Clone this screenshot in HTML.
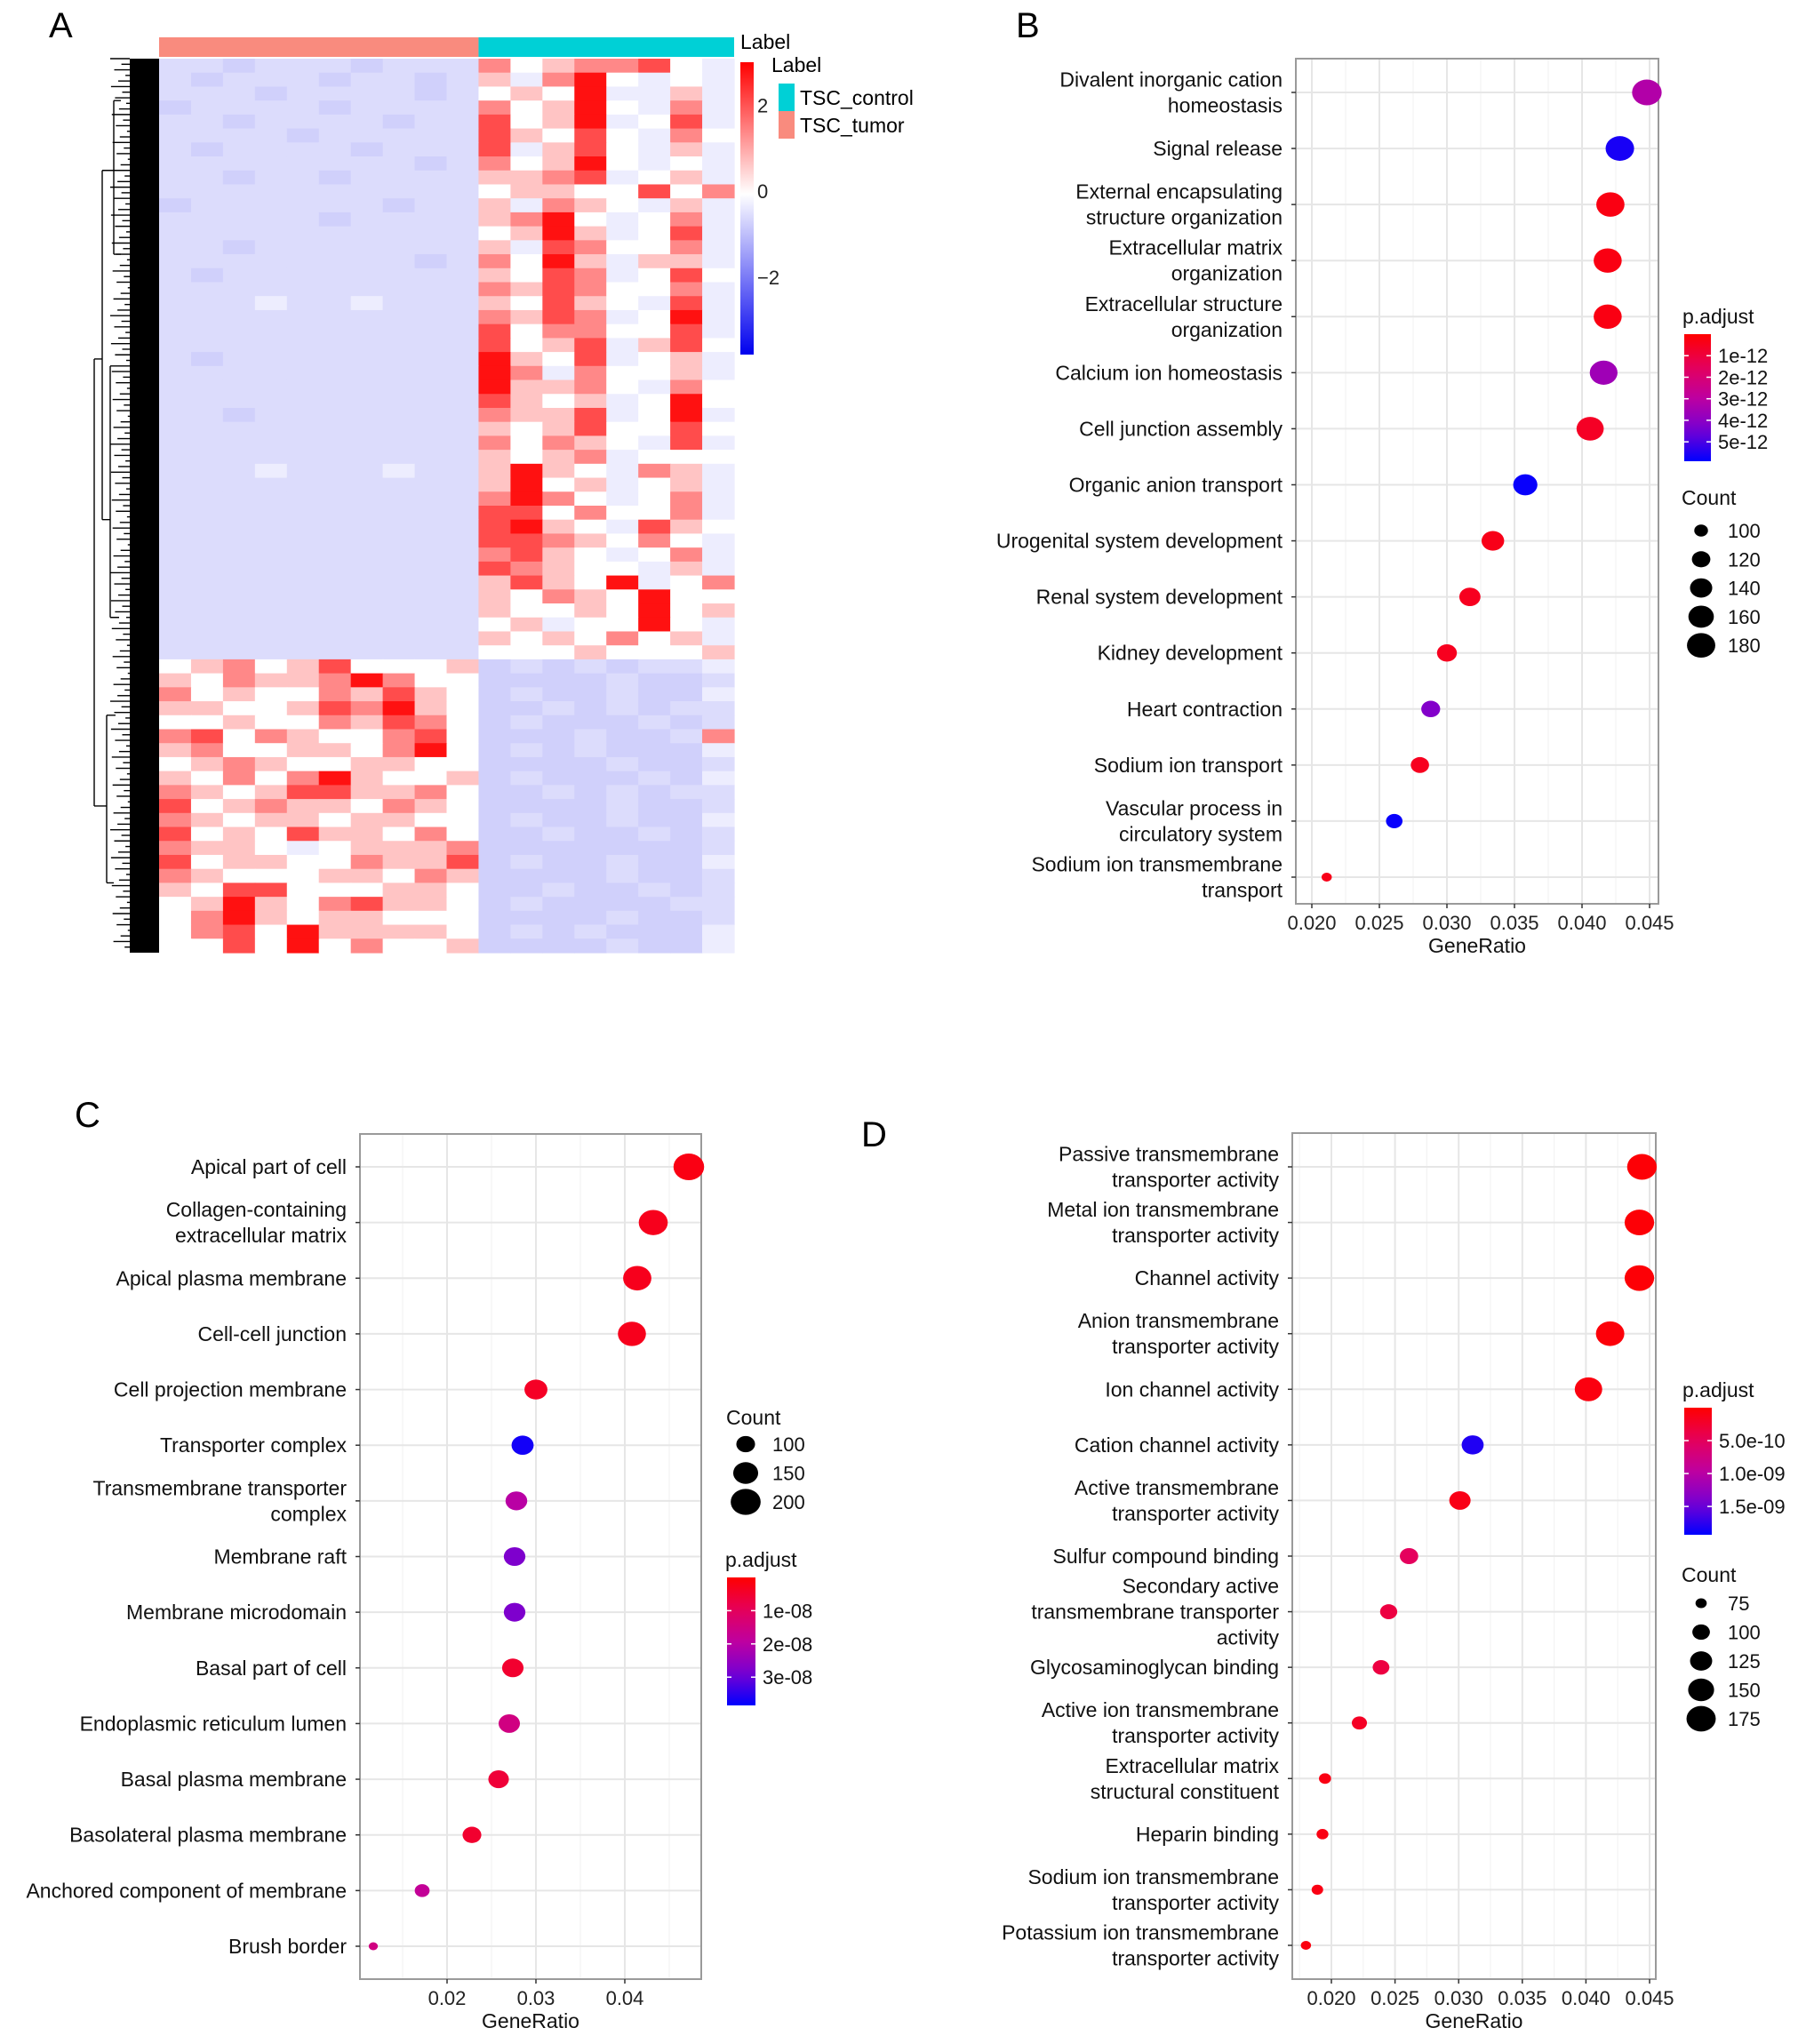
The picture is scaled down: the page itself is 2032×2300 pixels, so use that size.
<!DOCTYPE html>
<html><head><meta charset="utf-8"><style>
html,body{margin:0;padding:0;background:#fff;}
svg{display:block;font-family:"Liberation Sans",Arial,sans-serif;}
</style></head><body>
<svg id="fig" width="2032" height="2300" viewBox="0 0 2032 2300" xmlns="http://www.w3.org/2000/svg">
<text x="55" y="42" font-size="40">A</text>
<text x="1143" y="42" font-size="40">B</text>
<text x="84" y="1268" font-size="40">C</text>
<text x="969" y="1290" font-size="40">D</text>
<g id="heat"></g>
<g id="pb"></g>
<g id="pc"></g>
<g id="pd"></g>
</svg>
<script>
// ---------- Heatmap data (a..h = -1.2 .. 2.8) ----------
const heatRows = [
"bbabbbabbbfdeffgdc","babbbabbabecfhdcdc","bbbabbbbabdedhccec","abbbbabbbbfdehdcfc",
"bbabbbbabbgdehcdgc","bbbbabbbbbgedgdcfd","babbbbabbbgcegdcec","bbbbbbbbabfdehdcdc",
"bbabbabbbbeefgcdec","bbbbbbbbbbdeeddgdf","abbbbbbabbecfedcec","bbbbbabbbbefhdcdfc",
"bbbbbbbbbbdehecdgc","bbabbbbbbbecgfddfc","bbbbbbbbabfdheceec","babbbbbbbbedgfcdgd",
"bbbbbbbbbbfegfddfc","bbbcbbcbbbedgedcgc","bbbbbbbbbbfegfcdhc","bbbbbbbbbbgdffddgc",
"bbbbbbbbbbgdegcegd","babbbbbbbbhedgcdec","bbbbbbbbbbhfcfddec","bbbbbbbbbbheefdcfd",
"bbbbbbbbbbgedecdhd","bbabbbbbbbfeegcdhc","bbbbbbbbbbedegddgd","bbbbbbbbbbfdfedcgc",
"bbbbbbbbbbedefcddd","bbbcbbbcbbehedcfec","bbbbbbbbbbehdecdec","bbbbbbbbbbfhfdcdfc",
"bbbbbbbbbbggdfddfc","bbbbbbbbbbghedcged","bbbbbbbbbbggfedfdc","bbbbbbbbbbfgedcdfc",
"bbbbbbbbbbgfeddcec","bbbbbbbbbbegedhcdf","bbbbbbbbbbedfedhdd","bbbbbbbbbbeddedhde",
"bbbbbbbbbbdecddhdc","bbbbbbbbbbededfdec","bbbbbbbbbbdddeddde",
"defdegdddeabababbc","edfeefhfddaaaabaab","fdeddfegedabaabaac","eeddegfhedaabababb",
"ddeddfegfdabaaabab","fgdfeddfgdaaabaabf","efddeedfhdababaaac","defeddeeddaaaabaab",
"edfdfheddeabaaabac","fedeggeefdaabababb","gdefeedfedaaaabaab","fedeedeeddabaabaac",
"gdedgeedfdaabaabab","feedcdeeefaaaaaaab","gdeeddfeegabaabaac","fedddeedfeaaaabaab",
"edggdddeedaabaabab","dehedfgeedabaaaabb","dfhedeedddaaaabaab","dfgdheeeedababaaac",
"ddgdhdfddeaaaabaac"];
const heatLevels = {a:-1.3,b:-0.95,c:-0.5,d:0,e:0.7,f:1.4,g:2.1,h:2.8};
const groupLabels = ["TSC_tumor","TSC_control"];
const groupSizes = [10,8];
const heatTicks = [2,0,-2];

// ---------- Panel B ----------
const bTerms = [["Divalent inorganic cation","homeostasis"],["Signal release"],["External encapsulating","structure organization"],["Extracellular matrix","organization"],["Extracellular structure","organization"],["Calcium ion homeostasis"],["Cell junction assembly"],["Organic anion transport"],["Urogenital system development"],["Renal system development"],["Kidney development"],["Heart contraction"],["Sodium ion transport"],["Vascular process in","circulatory system"],["Sodium ion transmembrane","transport"]];
const bRatio = [0.0448,0.0428,0.0421,0.0419,0.0419,0.0416,0.0406,0.0358,0.0334,0.0317,0.0300,0.0288,0.0280,0.0261,0.0211];
const bCount = [190,181,179,178,178,176,172,152,142,134,127,122,119,111,89];
const bPadj = [3.2e-12,5.6e-12,0.3e-12,0.3e-12,0.3e-12,3.6e-12,0.6e-12,5.8e-12,0.4e-12,0.5e-12,0.5e-12,4.2e-12,0.5e-12,5.8e-12,0.4e-12];
const bTicks = [0.020,0.025,0.030,0.035,0.040,0.045];
const bTickLabels = ["0.020","0.025","0.030","0.035","0.040","0.045"];
const bPTicks = [1e-12,2e-12,3e-12,4e-12,5e-12];
const bPTickLabels = ["1e-12","2e-12","3e-12","4e-12","5e-12"];
const bCountBreaks = [100,120,140,160,180];

// ---------- Panel C ----------
const cTerms = [["Apical part of cell"],["Collagen-containing","extracellular matrix"],["Apical plasma membrane"],["Cell-cell junction"],["Cell projection membrane"],["Transporter complex"],["Transmembrane transporter","complex"],["Membrane raft"],["Membrane microdomain"],["Basal part of cell"],["Endoplasmic reticulum lumen"],["Basal plasma membrane"],["Basolateral plasma membrane"],["Anchored component of membrane"],["Brush border"]];
const cRatio = [0.0472,0.0432,0.0414,0.0408,0.0300,0.0285,0.0278,0.0276,0.0276,0.0274,0.0270,0.0258,0.0228,0.0172,0.0117];
const cCount = [208,190,182,180,132,125,122,121,121,120,119,113,100,76,51];
const cPadj = [0.2e-8,0.3e-8,0.3e-8,0.3e-8,0.4e-8,3.7e-8,2.0e-8,2.8e-8,2.8e-8,0.5e-8,1.5e-8,0.6e-8,0.5e-8,1.8e-8,1.5e-8];
const cTicks = [0.02,0.03,0.04];
const cTickLabels = ["0.02","0.03","0.04"];
const cPTicks = [1e-8,2e-8,3e-8];
const cPTickLabels = ["1e-08","2e-08","3e-08"];
const cCountBreaks = [100,150,200];

// ---------- Panel D ----------
const dTerms = [["Passive transmembrane","transporter activity"],["Metal ion transmembrane","transporter activity"],["Channel activity"],["Anion transmembrane","transporter activity"],["Ion channel activity"],["Cation channel activity"],["Active transmembrane","transporter activity"],["Sulfur compound binding"],["Secondary active","transmembrane transporter","activity"],["Glycosaminoglycan binding"],["Active ion transmembrane","transporter activity"],["Extracellular matrix","structural constituent"],["Heparin binding"],["Sodium ion transmembrane","transporter activity"],["Potassium ion transmembrane","transporter activity"]];
const dRatio = [0.0444,0.0442,0.0442,0.0419,0.0402,0.0311,0.0301,0.0261,0.0245,0.0239,0.0222,0.0195,0.0193,0.0189,0.0180];
const dCount = [178,177,177,168,161,124,120,104,98,96,89,78,77,76,72];
const dPadj = [0.3e-10,0.3e-10,0.3e-10,0.5e-10,0.8e-10,18e-10,1.2e-10,5e-10,3.5e-10,3.5e-10,2e-10,1e-10,1e-10,1e-10,0.8e-10];
const dTicks = [0.020,0.025,0.030,0.035,0.040,0.045];
const dTickLabels = ["0.020","0.025","0.030","0.035","0.040","0.045"];
const dPTicks = [5e-10,1e-9,1.5e-9];
const dPTickLabels = ["5.0e-10","1.0e-09","1.5e-09"];
const dCountBreaks = [75,100,125,150,175];

const NS="http://www.w3.org/2000/svg";
function mk(tag, attrs, parent){const e=document.createElementNS(NS,tag);for(const k in attrs)e.setAttribute(k,attrs[k]);parent.appendChild(e);return e;}
function lerp(a,b,t){return a+(b-a)*t;}
function heatColor(v){
  if(v>=0){const t=Math.min(v/3,1);return `rgb(255,${Math.round(255*(1-t))},${Math.round(255*(1-t))})`;}
  const t=Math.min(-v/7,1);return `rgb(${Math.round(255*(1-t))},${Math.round(255*(1-t))},${Math.round(255-t*20)})`;
}
function padjColor(t){
  t=Math.max(0,Math.min(1,t));
  const stops=[[255,0,0],[230,0,90],[190,0,160],[120,0,210],[0,0,255]];
  const p=t*(stops.length-1), i=Math.min(Math.floor(p),stops.length-2), f=p-i;
  const c=stops[i].map((s,k)=>Math.round(lerp(s,stops[i+1][k],f)));
  return `rgb(${c[0]},${c[1]},${c[2]})`;
}

// ---------- Heatmap ----------
(function(){
  const g=document.getElementById('heat');
  const x0=179,x1=826,y0=66,y1=1072;
  const nC=heatRows[0].length,nR=heatRows.length;
  const cw=(x1-x0)/nC,rh=(y1-y0)/nR;
  let cx=x0;
  const annColors=["#f98b7e","#00d0d6"];
  groupSizes.forEach((n,i)=>{
    const r=mk('rect',{x:cx,y:42,width:n*cw,height:22,fill:annColors[i]},g);
    
    
    cx+=n*cw;
  });
  heatRows.forEach((row,ri)=>{
    for(let ci=0;ci<nC;ci++){
      const c=mk('rect',{x:(x0+ci*cw).toFixed(2),y:(y0+ri*rh).toFixed(2),width:(cw+0.6).toFixed(2),height:(rh+0.6).toFixed(2),fill:heatColor(heatLevels[row[ci]])},g);
      
      
    }
  });
  const dg=mk('g',{stroke:'#000','stroke-width':1.4,fill:'none'},g);
  
  
  mk('rect',{x:146,y:y0,width:33,height:y1-y0,fill:'#000',stroke:'none'},dg);
  for(let i=0;i<160;i++){const yy=y0+i*(y1-y0)/160;const d=(i*37)%23;mk('line',{x1:124+d*0.9,y1:yy,x2:146,y2:yy},dg);}
  const split=y0+43*rh;
  const topMid=(y0+split)/2,botMid=(split+y1)/2;
  mk('path',{d:`M106 ${topMid} V ${botMid} M106 ${topMid} H115 M106 ${botMid} H120`},dg);
  mk('path',{d:`M115 ${y0+8*rh} V ${split-10*rh} M115 ${y0+8*rh} H128 M115 ${split-10*rh} H124`},dg);
  mk('path',{d:`M120 ${split+4*rh} V ${y1-5*rh} M120 ${split+4*rh} H130 M120 ${y1-5*rh} H128`},dg);
  mk('path',{d:`M124 ${y0+22*rh} V ${split-3*rh} M124 ${y0+22*rh} H134 M124 ${split-3*rh} H134`},dg);
  mk('path',{d:`M128 ${y0+3*rh} V ${y0+14*rh} M128 ${y0+3*rh} H136 M128 ${y0+14*rh} H136`},dg);
  const lb=mk('text',{x:833,y:55,'font-size':23},g);lb.textContent='Label';
  
  const cb=mk('defs',{},g);
  const gr=mk('linearGradient',{id:'hg',x1:0,y1:0,x2:0,y2:1},cb);
  mk('stop',{offset:'0','stop-color':'#ff0000'},gr);
  mk('stop',{offset:'0.45','stop-color':'#ffffff'},gr);
  mk('stop',{offset:'1','stop-color':'#0000ee'},gr);
  const bar=mk('rect',{x:833,y:70,width:15,height:329,fill:'url(#hg)'},g);
  
  const vTop=3,vBot=-3.8;
  heatTicks.forEach(v=>{
    const y=70+(vTop-v)/(vTop-vBot)*329;
    const t=mk('text',{x:852,y:y+8,'font-size':22,fill:'#222'},g);t.textContent=v<0?'\u2212'+(-v):String(v);
    
  });
  const lt=mk('text',{x:868,y:81,'font-size':23},g);lt.textContent='Label';
  
  [["TSC_control","#00d0d6",94],["TSC_tumor","#f98b7e",125]].forEach(([n,c,y])=>{
    const r=mk('rect',{x:876,y:y,width:18,height:31,fill:c},g);
    
    const t=mk('text',{x:900,y:y+24,'font-size':23},g);t.textContent=n;
    
  });
})();

// ---------- Dot plot ----------
function dotplot(o){
  const g=document.getElementById(o.id);
  const {px0,px1,py0,py1}=o;
  const xs=v=>o.xa+(v-o.xv0)*o.xk;
  const n=o.terms.length;
  const ys=i=>o.yFirst+i*(o.yLast-o.yFirst)/(n-1);
  const cmin=Math.min(...o.count),cmax=Math.max(...o.count);
  const rs=c=>Math.sqrt(o.rmin*o.rmin+(o.rmax*o.rmax-o.rmin*o.rmin)*Math.max(0,(c-cmin))/(cmax-cmin));
  mk('rect',{x:px0,y:py0,width:px1-px0,height:py1-py0,fill:'#fff'},g);
  const step=o.ticks[1]-o.ticks[0];
  const minors=[];o.ticks.forEach(t=>minors.push(t-step/2));minors.push(o.ticks[o.ticks.length-1]+step/2);
  minors.forEach(m=>{const x=xs(m);if(x>px0&&x<px1)mk('line',{x1:x,y1:py0,x2:x,y2:py1,stroke:'#f3f3f3','stroke-width':1.2},g);});
  o.ticks.forEach(t=>{const x=xs(t);mk('line',{x1:x,y1:py0,x2:x,y2:py1,stroke:'#e6e6e6','stroke-width':2},g);});
  o.terms.forEach((_,i)=>mk('line',{x1:px0,y1:ys(i),x2:px1,y2:ys(i),stroke:'#e6e6e6','stroke-width':2},g));
  const fr=mk('rect',{x:px0,y:py0,width:px1-px0,height:py1-py0,fill:'none',stroke:'#9a9a9a','stroke-width':2},g);
  
  o.terms.forEach((lines,i)=>{
    const y=ys(i);
    mk('line',{x1:px0-5,y1:y,x2:px0,y2:y,stroke:'#333','stroke-width':1.5},g);
    const t=mk('text',{x:px0-15,'text-anchor':'end','font-size':23,fill:'#111'},g);
    
    const lh=29, start=y+8-(lines.length-1)*lh/2;
    lines.forEach((l,k)=>{const s=mk('tspan',{x:px0-15,y:start+k*lh},t);s.textContent=l;});
  });
  o.ticks.forEach((t,i)=>{
    const x=xs(t);
    mk('line',{x1:x,y1:py1,x2:x,y2:py1+5,stroke:'#333','stroke-width':1.5},g);
    const tx=mk('text',{x:x,y:py1+29,'text-anchor':'middle','font-size':22,fill:'#222'},g);tx.textContent=o.tickLabels[i];
    
  });
  const xt=mk('text',{x:(px0+px1)/2,y:py1+55,'text-anchor':'middle','font-size':23,fill:'#111'},g);xt.textContent='GeneRatio';
  
  o.ratio.forEach((r,i)=>{
    const ry=rs(o.count[i]);
    const e=mk('ellipse',{cx:xs(r),cy:ys(i),rx:(ry*1.15).toFixed(2),ry:ry.toFixed(2),fill:padjColor((o.padj[i]-o.pv0)/(o.pv1-o.pv0))},g);
    
    
  });
  const pl=o.pleg;
  const pt=mk('text',{x:pl.x-2,y:pl.y-12,'font-size':23,fill:'#111'},g);pt.textContent='p.adjust';
  
  const defs=mk('defs',{},g);
  const gr=mk('linearGradient',{id:o.id+'g',x1:0,y1:0,x2:0,y2:1},defs);
  for(let k=0;k<=10;k++)mk('stop',{offset:k/10,'stop-color':padjColor(k/10)},gr);
  const bar=mk('rect',{x:pl.x,y:pl.y,width:pl.w,height:pl.h,fill:`url(#${o.id}g)`},g);
  
  o.pticks.forEach((v,i)=>{
    const y=pl.y+(v-o.pv0)/(o.pv1-o.pv0)*pl.h;
    mk('line',{x1:pl.x,y1:y,x2:pl.x+5,y2:y,stroke:'#fff','stroke-width':1.5},g);
    mk('line',{x1:pl.x+pl.w-5,y1:y,x2:pl.x+pl.w,y2:y,stroke:'#fff','stroke-width':1.5},g);
    const t=mk('text',{x:pl.x+pl.w+8,y:y+8,'font-size':22,fill:'#111'},g);t.textContent=o.ptickLabels[i];
    
  });
  const cl=o.cleg;
  const ct=mk('text',{x:cl.x-22,y:cl.titleY,'font-size':23,fill:'#111'},g);ct.textContent='Count';
  
  o.breaks.forEach((b,i)=>{
    const y=cl.y0+i*cl.dy, ry=rs(b);
    const e=mk('ellipse',{cx:cl.x,cy:y,rx:(ry*1.15).toFixed(2),ry:ry.toFixed(2),fill:'#000'},g);
    
    const t=mk('text',{x:cl.x+30,y:y+8,'font-size':22,fill:'#111'},g);t.textContent=String(b);
    
  });
}

dotplot({id:'pb',terms:bTerms,ratio:bRatio,count:bCount,padj:bPadj,ticks:bTicks,tickLabels:bTickLabels,
  px0:1458,px1:1866,py0:66,py1:1017,xa:1476,xv0:0.020,xk:76/0.005,yFirst:104,yLast:987,
  rmin:5,rmax:14.5,pv0:0,pv1:5.9e-12,pticks:bPTicks,ptickLabels:bPTickLabels,
  pleg:{x:1895,y:376,w:30,h:143},breaks:bCountBreaks,cleg:{x:1914,titleY:568,y0:597,dy:32.3}});
dotplot({id:'pc',terms:cTerms,ratio:cRatio,count:cCount,padj:cPadj,ticks:cTicks,tickLabels:cTickLabels,
  px0:405,px1:789,py0:1276,py1:2227,xa:503,xv0:0.02,xk:100/0.01,yFirst:1313,yLast:2190,
  rmin:4.5,rmax:15,pv0:0,pv1:3.85e-8,pticks:cPTicks,ptickLabels:cPTickLabels,
  pleg:{x:818,y:1775,w:32,h:144},breaks:cCountBreaks,cleg:{x:839,titleY:1603,y0:1625,dy:32.5}});
dotplot({id:'pd',terms:dTerms,ratio:dRatio,count:dCount,padj:dPadj,ticks:dTicks,tickLabels:dTickLabels,
  px0:1454,px1:1863,py0:1275,py1:2227,xa:1498,xv0:0.020,xk:71.6/0.005,yFirst:1313,yLast:2189,
  rmin:5,rmax:14.5,pv0:0,pv1:1.93e-9,pticks:dPTicks,ptickLabels:dPTickLabels,
  pleg:{x:1895,y:1584,w:31,h:143},breaks:dCountBreaks,cleg:{x:1914,titleY:1780,y0:1804,dy:32.5}});
</script>
</body></html>
